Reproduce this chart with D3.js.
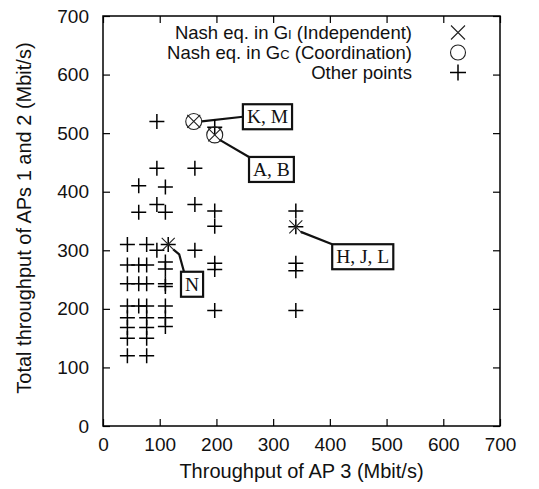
<!DOCTYPE html>
<html><head><meta charset="utf-8">
<script src="https://cdn.jsdelivr.net/npm/d3@7"></script>
<style>body{margin:0;background:#fff}svg{display:block}</style>
</head><body>
<svg id="c" width="539" height="489"></svg>
<script>
// ---- data ----
const xTicks = [0, 100, 200, 300, 400, 500, 600, 700];
const yTicks = [0, 100, 200, 300, 400, 500, 600, 700];
// Nash equilibria in G_I (independent)
const nashIX = [160, 197, 115, 340];
const nashIY = [520, 497, 310, 340];
// Nash equilibria in G_C (coordination)
const nashCX = [160, 197];
const nashCY = [520, 497];
// Other points
const otherX = [
  43, 43, 43, 43, 43, 43, 43, 43,
  63, 63, 63, 63, 63,
  77, 77, 77, 77, 77, 77, 77, 77,
  95, 95, 95, 95,
  110, 110, 110, 110, 110, 110, 110, 110, 110,
  162, 162, 162,
  197, 197, 197, 197, 197, 197,
  340, 340, 340, 340, 340,
  115
];
const otherY = [
  310, 275, 243, 205, 185, 168, 150, 120,
  410, 365, 275, 243, 205,
  310, 275, 243, 205, 185, 168, 150, 120,
  520, 440, 378, 300,
  408, 365, 280, 268, 243, 238, 205, 185, 170,
  440, 378, 300,
  510, 367, 341, 278, 267, 197,
  367, 340, 278, 265, 197,
  310
];
// Annotations: label, anchor point, box centre (data units)
const annLabels = ["K, M", "A, B", "H, J, L", "N"];
const annPX = [160, 197, 340, 115];
const annPY = [520, 497, 340, 310];
const annBX = [290, 297, 458, 157];
const annBY = [528, 438, 289, 242];
const legendLabels = [["Nash eq. in G", "I", " (Independent)"], ["Nash eq. in G", "C", " (Coordination)"], ["Other points", "", ""]];
const legendSymbols = ["x", "o", "+"];

// ---- layout ----
const svg = d3.select("#c");
const m = {l: 103, t: 16, r: 39, b: 63};
const W = 539 - m.l - m.r, H = 489 - m.t - m.b;
const x = d3.scaleLinear().domain([0, 700]).range([m.l, m.l + W]);
const y = d3.scaleLinear().domain([0, 700]).range([m.t + H, m.t]);
const FONT = "'Liberation Sans', Arial, Helvetica, sans-serif";
const SERIF = "'Liberation Serif', 'Times New Roman', serif";

// axes
const tickLen = 7;
const gx = svg.append("g").attr("transform", `translate(0,${m.t + H})`)
  .call(d3.axisBottom(x).tickValues(xTicks).tickSize(-tickLen).tickPadding(12).tickFormat(d3.format("d")));
const gxt = svg.append("g").attr("transform", `translate(0,${m.t})`)
  .call(d3.axisTop(x).tickValues(xTicks).tickSize(-tickLen).tickFormat(""));
const gy = svg.append("g").attr("transform", `translate(${m.l},0)`)
  .call(d3.axisLeft(y).tickValues(yTicks).tickSize(-tickLen).tickPadding(14).tickFormat(d3.format("d")));
const gyr = svg.append("g").attr("transform", `translate(${m.l + W},0)`)
  .call(d3.axisRight(y).tickValues(yTicks).tickSize(-tickLen).tickFormat(""));
[gx, gxt, gy, gyr].forEach(g => {
  g.select(".domain").remove();
  g.selectAll(".tick line").attr("stroke", "#000").attr("stroke-width", 1.2);
  g.selectAll("text").attr("font-family", FONT).attr("font-size", 19).attr("fill", "#111");
});
svg.append("rect").attr("x", m.l).attr("y", m.t).attr("width", W).attr("height", H)
  .attr("fill", "none").attr("stroke", "#000").attr("stroke-width", 1.5);

// axis titles
svg.append("text").attr("x", x(350)).attr("y", 478).attr("text-anchor", "middle")
  .attr("font-family", FONT).attr("font-size", 20).attr("fill", "#111")
  .text("Throughput of AP 3 (Mbit/s)");
svg.append("text").attr("transform", `translate(31,${y(355)}) rotate(-90)`).attr("text-anchor", "middle")
  .attr("font-family", FONT).attr("font-size", 20).attr("fill", "#111")
  .text("Total throughput of APs 1 and 2 (Mbit/s)");

// symbol drawers
const S = 7.5;
function plus(g, cx, cy, s = S) {
  g.append("path").attr("d", `M${cx - s},${cy}H${cx + s}M${cx},${cy - s}V${cy + s}`)
    .attr("stroke", "#000").attr("stroke-width", 1.5).attr("fill", "none");
}
function cross(g, cx, cy, s = 6.5) {
  g.append("path").attr("d", `M${cx - s},${cy - s}L${cx + s},${cy + s}M${cx - s},${cy + s}L${cx + s},${cy - s}`)
    .attr("stroke", "#222").attr("stroke-width", 1.1).attr("fill", "none");
}
function circ(g, cx, cy, r = 8) {
  g.append("circle").attr("cx", cx).attr("cy", cy).attr("r", r)
    .attr("stroke", "#222").attr("stroke-width", 1.1).attr("fill", "none");
}

// annotations (lines + boxes) first
const ann = svg.append("g");
annLabels.forEach((lab, i) => {
  const px = x(annPX[i]), py = y(annPY[i]);
  const bx = x(annBX[i]), by = y(annBY[i]);
  const t = ann.append("text").attr("x", bx).attr("y", by + 6.5).attr("text-anchor", "middle")
    .attr("font-family", SERIF).attr("font-size", 19.5).attr("fill", "#111").text(lab);
  const bb = t.node().getBBox();
  const padX = 4;
  const rx = bb.x - padX, ry = by - 12.5, rw = bb.width + 2 * padX, rh = 25;
  let d;
  if (lab === "N") {
    d = `M${px + 5},${py + 5}L${px + 11},${py + 10}L${rx + 3},${ry}`;
  } else if (lab === "K, M") {
    d = `M${px + 8},${py}L${rx},${by}`;
  } else {
    d = `M${px + 5},${py + 5}L${rx},${ry}`;
  }
  ann.insert("path", "text").attr("d", d).attr("stroke", "#111").attr("stroke-width", 2.2).attr("fill", "none");
  ann.insert("rect", "text").attr("x", rx).attr("y", ry).attr("width", rw).attr("height", rh)
    .attr("fill", "#fff").attr("stroke", "#111").attr("stroke-width", 2.2);
});

// points
const pts = svg.append("g");
otherX.forEach((v, i) => plus(pts, x(v), y(otherY[i])));
nashCX.forEach((v, i) => circ(pts, x(v), y(nashCY[i])));
nashIX.forEach((v, i) => cross(pts, x(v), y(nashIY[i])));

// legend
const lg = svg.append("g");
legendLabels.forEach((parts, i) => {
  const ly = 39 + i * 20;
  const t = lg.append("text").attr("x", 412).attr("y", ly).attr("text-anchor", "end")
    .attr("font-family", FONT).attr("font-size", 18.5).attr("fill", "#111");
  t.append("tspan").text(parts[0]);
  if (parts[1]) t.append("tspan").attr("font-size", 13).text(parts[1]);
  t.append("tspan").text(parts[2]);
  const sx = 458, sy = ly - 6.5;
  if (legendSymbols[i] === "x") cross(lg, sx, sy, 7);
  else if (legendSymbols[i] === "o") circ(lg, sx, sy, 7.5);
  else plus(lg, sx, sy, 8);
});
</script>
</body></html>
